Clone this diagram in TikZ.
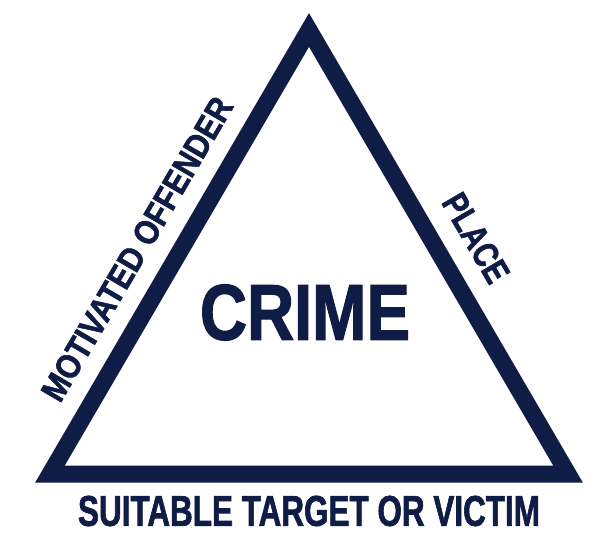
\documentclass[tikz,border=0pt]{standalone}
\usepackage{fontspec}
\setmainfont{Liberation Sans}[BoldFeatures={FakeBold=1.8}]
\definecolor{navy}{HTML}{0F1C45}
\tikzset{
  edge/.style={draw=navy, line width=17pt, line join=miter},
  lbl/.style={inner sep=0pt, outer sep=0pt, text=navy, font=\bfseries, anchor=center}
}
\begin{document}
\begin{tikzpicture}[x=1pt,y=-1pt]
\useasboundingbox[fill=white] (0,0) rectangle (614,540);
\coordinate (top) at (309,30);
\coordinate (bl) at (50,474);
\coordinate (br) at (568,474);
\draw[edge] (top) -- (bl) -- (br) -- cycle;
\node[lbl] (crime) at (305,312.5) {\resizebox{210pt}{55pt}{CRIME}};
\node[lbl] (victim) at (309,511) {\resizebox{462pt}{30pt}{SUITABLE TARGET OR VICTIM}};
\node[lbl, rotate=59.7] (offender) at (137,249) {\resizebox{345pt}{24pt}{MOTIVATED OFFENDER}};
\node[lbl, rotate=-59.7] (place) at (476,238) {\resizebox{97pt}{25pt}{PLACE}};
\end{tikzpicture}
\end{document}
